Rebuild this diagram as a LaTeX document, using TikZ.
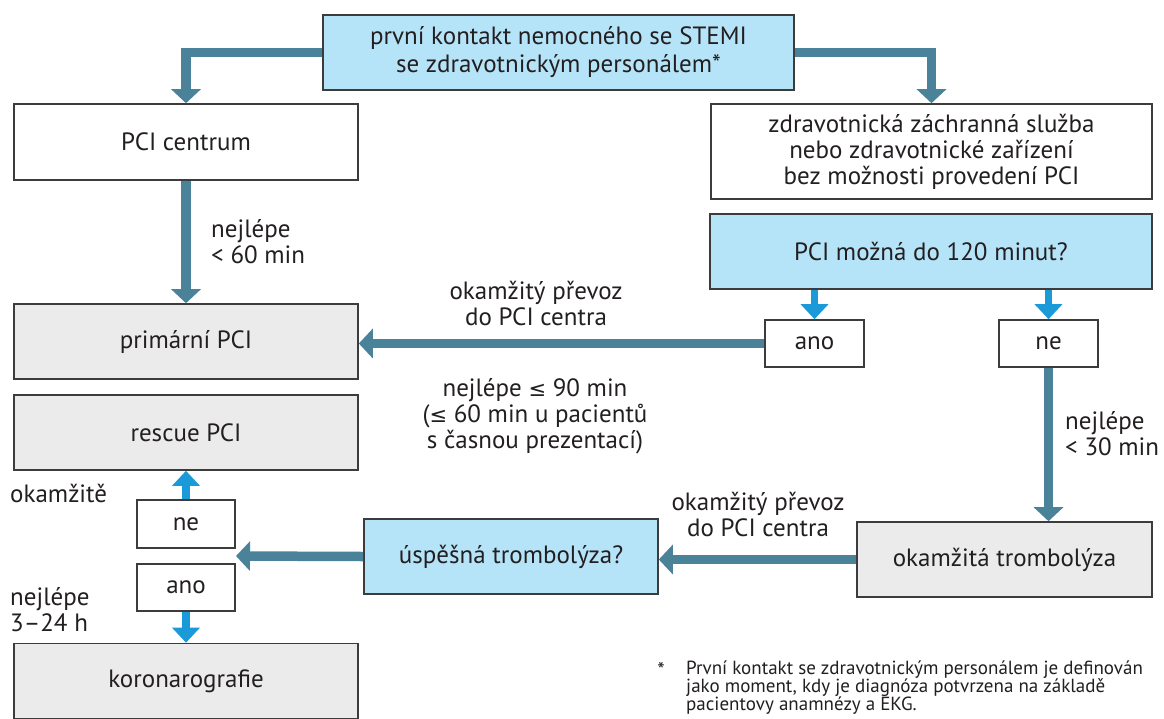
\documentclass[tikz,border=0pt]{standalone}
\usepackage{fontspec}
\setmainfont{PT Sans}
\newfontfamily\symf{DejaVu Sans}
\usetikzlibrary{arrows.meta}
\definecolor{txt}{HTML}{231F20}
\definecolor{thickc}{HTML}{4A8299}
\definecolor{lblue}{HTML}{1A9AD9}
\definecolor{bfill}{HTML}{B5E4F8}
\definecolor{gfill}{HTML}{EBEBEB}
\definecolor{bord}{HTML}{3C3C3C}
\newcommand{\leqs}{{\symf\fontsize{21}{26}\selectfont ≤}}
\begin{document}
\begin{tikzpicture}[x=1pt,y=-1pt,
  box/.style={draw=bord,line width=1.6pt,text=txt,inner sep=0pt,align=center,
    font=\fontsize{25}{28}\selectfont},
  bluebox/.style={box,fill=bfill},
  graybox/.style={box,fill=gfill},
  whitebox/.style={box,fill=white},
  lbl/.style={text=txt,inner sep=0pt,font=\fontsize{25}{26}\selectfont},
  thk/.style={draw=thickc,line width=9.5pt,line join=miter,-{Triangle[width=29pt,length=14pt]}},
  lbarrow/.style={draw=lblue,line width=7.5pt,-{Triangle[width=27pt,length=15pt]}}
]
\useasboundingbox (0,0) rectangle (1164,718);
\fill[white] (0,0) rectangle (1164,718);

% boxes
\node[bluebox,minimum width=471pt,minimum height=75pt] (top) at (558.5,52.5)
  {první kontakt nemocného se STEMI\\se zdravotnickým personálem*};
\node[whitebox,minimum width=344pt,minimum height=76pt] (pcic) at (186,142) {PCI centrum};
\node[whitebox,minimum width=441pt,minimum height=95pt,font=\fontsize{25}{26}\selectfont] (zdrav) at (931.5,151.5)
  {zdravotnická záchranná služba\\nebo zdravotnické zařízení\\bez možnosti provedení PCI};
\node[bluebox,minimum width=442pt,minimum height=75pt] (pcimoz) at (931,251.5) {PCI možná do 120 minut?};
\node[whitebox,minimum width=99pt,minimum height=47pt] (ano1) at (814.5,343.5) {ano};
\node[whitebox,minimum width=99pt,minimum height=47pt] (ne1) at (1048.5,343.5) {ne};
\node[graybox,minimum width=344pt,minimum height=75pt] (prim) at (186,341.5) {primární PCI};
\node[graybox,minimum width=344pt,minimum height=75pt] (rescue) at (186,432.5) {rescue PCI};
\node[whitebox,minimum width=98pt,minimum height=48pt] (ne2) at (186,524) {ne};
\node[whitebox,minimum width=98pt,minimum height=47pt] (ano2) at (186,587.5) {ano};
\node[bluebox,minimum width=294pt,minimum height=75pt] (uspesna) at (511,556.5) {úspěšná trombolýza?};
\node[graybox,minimum width=295pt,minimum height=75pt] (okam) at (1004.5,559.5) {okamžitá trombolýza};
\node[graybox,minimum width=344pt,minimum height=75pt] (koro) at (186,681) {koronarografie};
\coordinate (gap) at (236,556);

% labels
\node[lbl,anchor=west,align=left] (l60) at (211,242) {nejlépe\\< 60 min};
\node[lbl,align=center] (lprevoz1) at (536,303) {okamžitý převoz\\do PCI centra};
\node[lbl,align=center] (l90) at (535,416) {nejlépe \leqs\ 90 min\\(\leqs\ 60 min u pacientů\\s časnou prezentací)};
\node[lbl,anchor=west,align=left] (l30) at (1065,434) {nejlépe\\< 30 min};
\node[lbl,align=center] (lprevoz2) at (758,514) {okamžitý převoz\\do PCI centra};
\node[lbl,anchor=west] (lokam) at (10,493) {okamžitě};
\node[lbl,anchor=west,align=left] (l324) at (10,610) {nejlépe\\3–24 h};
\node[text=txt,inner sep=0pt,font=\fontsize{21}{21}\selectfont] (star) at (661,670) {*};
\node[text=txt,inner sep=0pt,anchor=north west,align=left,font=\fontsize{19}{18}\selectfont] (foot) at (686,661)
  {První kontakt se zdravotnickým personálem je definován\\jako moment, kdy je diagnóza potvrzena na základě\\pacientovy anamnézy a EKG.};

% connectors
\draw[thk] (top.west) -| (pcic.north);
\draw[thk] (top.east) -| (zdrav.north);
\draw[thk] (pcic.south) -- (prim.north);
\draw[lbarrow] (ano1.north |- pcimoz.south) -- (ano1.north);
\draw[lbarrow] (ne1.north |- pcimoz.south) -- (ne1.north);
\draw[thk] (ano1.west) -- (ano1.west -| prim.east);
\draw[thk] (ne1.south) -- (ne1.south |- okam.north);
\draw[thk] (okam.west) -- (okam.west -| uspesna.east);
\draw[thk] (uspesna.west) -- (gap);
\draw[lbarrow] (ne2.north) -- (rescue.south);
\draw[lbarrow] (ano2.south) -- (koro.north);
\end{tikzpicture}
\end{document}
